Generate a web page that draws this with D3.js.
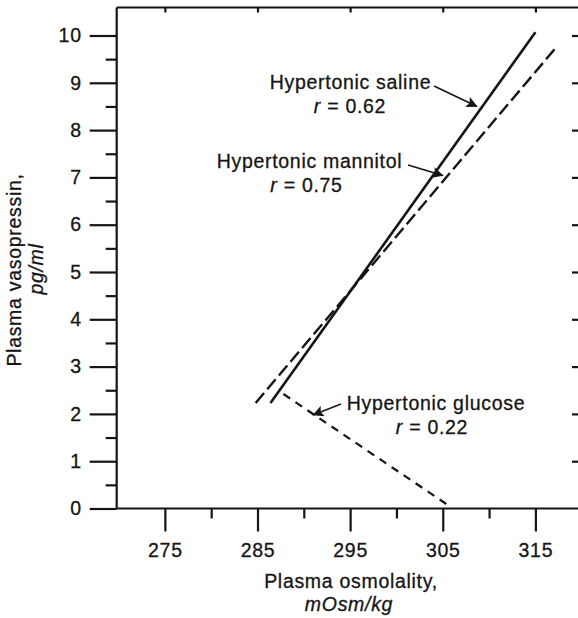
<!DOCTYPE html>
<html><head><meta charset="utf-8">
<script src="https://cdn.jsdelivr.net/npm/d3@7"></script>
<style>
body{margin:0;background:#fff}
text{font-family:"Liberation Sans",Arial,Helvetica,sans-serif;fill:#151515;stroke:#151515;stroke-width:0.3px}
</style>
</head><body>
<svg id="c" width="578" height="618"></svg>
<script>
// ---------- data ----------
const seriesNames = ["Hypertonic saline", "Hypertonic mannitol", "Hypertonic glucose"];
const rValues = ["0.62", "0.75", "0.22"];
// regression line end points (osmolality mOsm/kg, vasopressin pg/ml)
const salineOsm = [286.4, 315.0];
const salineAvp = [2.23, 10.07];
const mannitolOsm = [284.8, 317.2];
const mannitolAvp = [2.23, 9.74];
const glucoseOsm = [287.8, 305.5];
const glucoseAvp = [2.42, 0.08];
const xTickValues = [275, 285, 295, 305, 315];
const xMinorValues = [280, 290, 300, 310];
const yTickValues = [0, 1, 2, 3, 4, 5, 6, 7, 8, 9, 10];
const yMinorValues = [0.5, 1.5, 2.5, 3.5, 4.5, 5.5, 6.5, 7.5, 8.5, 9.5];
const xTitle = "Plasma osmolality,";
const xUnit = "mOsm/kg";
const yTitle = "Plasma vasopressin,";
const yUnit = "pg/ml";

// ---------- layout ----------
const W = 578, H = 618;
const FS = 19.5, LS = 0.7;
const svg = d3.select("#c");
const x = d3.scaleLinear().domain([269.8, 319.6]).range([116.7, 578]);
const y = d3.scaleLinear().domain([0, 10]).range([508.5, 35.5]);
const topY = 7.5;
const stroke = "#151515";

// left axis (major + minor)
const gL = svg.append("g").attr("transform", `translate(${x.range()[0]},0)`);
gL.call(d3.axisLeft(y).tickValues(yTickValues).tickSize(27).tickPadding(8).tickFormat(d3.format("d")));
gL.select(".domain").remove();
gL.append("g").call(d3.axisLeft(y).tickValues(yMinorValues).tickSize(11).tickFormat(""))
  .select(".domain").remove();
gL.append("line").attr("x1", 0).attr("x2", 0).attr("y1", topY).attr("y2", y(0));

// bottom axis (major + minor)
const gB = svg.append("g").attr("transform", `translate(0,${y(0)})`);
gB.call(d3.axisBottom(x).tickValues(xTickValues).tickSize(23).tickPadding(11.5).tickFormat(d3.format("d")));
gB.select(".domain").remove();
gB.append("g").call(d3.axisBottom(x).tickValues(xMinorValues).tickSize(10).tickFormat(""))
  .select(".domain").remove();
gB.append("line").attr("x1", x.range()[0]).attr("x2", W).attr("y1", 0).attr("y2", 0);

// top border with inward ticks
const gT = svg.append("g").attr("transform", `translate(0,${topY})`);
gT.call(d3.axisBottom(x).tickValues(xTickValues).tickSize(5).tickFormat(""));
gT.select(".domain").remove();
gT.append("line").attr("x1", x.range()[0]).attr("x2", W).attr("y1", 0).attr("y2", 0);

// right inward ticks
const gR = svg.append("g").attr("transform", `translate(${W},0)`);
gR.call(d3.axisLeft(y).tickValues(yTickValues.filter(v => v > 0)).tickSize(6).tickFormat(""));
gR.select(".domain").remove();

svg.selectAll(".tick line").attr("stroke", stroke).attr("stroke-width", 2);
svg.selectAll("g > line").attr("stroke", stroke).attr("stroke-width", 2.2);
svg.selectAll(".tick text").attr("font-size", FS).attr("letter-spacing", LS)
  .attr("font-family", '"Liberation Sans",Arial,sans-serif').attr("fill", "#151515");

// ---------- regression lines ----------
const lineGen = d3.line().x(d => x(d[0])).y(d => y(d[1]));
const series = [
  {osm: salineOsm, avp: salineAvp, dash: null, w: 2.6},
  {osm: mannitolOsm, avp: mannitolAvp, dash: "13,5", w: 2.4},
  {osm: glucoseOsm, avp: glucoseAvp, dash: "8,6.5", w: 2.2}
];
svg.append("g").selectAll("path").data(series).join("path")
  .attr("d", s => lineGen(d3.zip(s.osm, s.avp)))
  .attr("fill", "none").attr("stroke", stroke)
  .attr("stroke-width", s => s.w)
  .attr("stroke-dasharray", s => s.dash);

// ---------- annotations ----------
const defs = svg.append("defs");
defs.append("marker").attr("id", "ah").attr("viewBox", "0 0 10 10")
  .attr("refX", 9.5).attr("refY", 5).attr("markerWidth", 16).attr("markerHeight", 11)
  .attr("markerUnits", "userSpaceOnUse").attr("orient", "auto")
  .append("path").attr("d", "M0,0 L10,5 L0,10 L2,5 Z").attr("fill", stroke);

const ann = [
  {cx: 350.5, by: 89, rx: 350, from: [434, 86], to: [477, 106.5]},
  {cx: 309.5, by: 168, rx: 306.5, from: [408, 165], to: [443, 175.5]},
  {cx: 436, by: 410, rx: 432, from: [341, 404], to: [313, 415]}
];
ann.forEach((a, i) => {
  svg.append("text").attr("x", a.cx).attr("y", a.by).attr("text-anchor", "middle")
    .attr("font-size", FS).attr("letter-spacing", LS).text(seriesNames[i]);
  const t = svg.append("text").attr("x", a.rx).attr("y", a.by + 23.5).attr("text-anchor", "middle")
    .attr("font-size", FS).attr("letter-spacing", LS);
  t.append("tspan").attr("font-style", "italic").text("r");
  t.append("tspan").text(" = " + rValues[i]);
  svg.append("line").attr("x1", a.from[0]).attr("y1", a.from[1])
    .attr("x2", a.to[0]).attr("y2", a.to[1])
    .attr("stroke", stroke).attr("stroke-width", 1.5).attr("marker-end", "url(#ah)");
});

// ---------- axis titles ----------
svg.append("text").attr("x", 351).attr("y", 588).attr("text-anchor", "middle")
  .attr("font-size", FS).attr("letter-spacing", LS).text(xTitle);
svg.append("text").attr("x", 349).attr("y", 611).attr("text-anchor", "middle")
  .attr("font-size", FS).attr("letter-spacing", LS).attr("font-style", "italic").text(xUnit);
svg.append("text").attr("transform", "translate(21,270) rotate(-90)").attr("text-anchor", "middle")
  .attr("font-size", FS).attr("letter-spacing", LS).text(yTitle);
svg.append("text").attr("transform", "translate(43,269) rotate(-90)").attr("text-anchor", "middle")
  .attr("font-size", FS).attr("letter-spacing", LS).attr("font-style", "italic").text(yUnit);
</script>
</body></html>
